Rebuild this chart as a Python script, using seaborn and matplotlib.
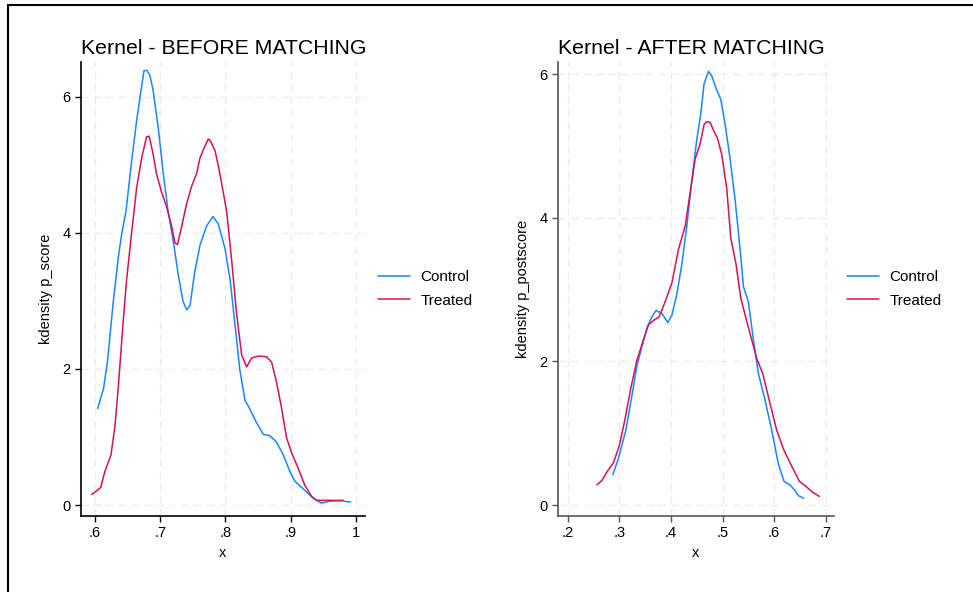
import numpy as np
import pandas as pd
import matplotlib
matplotlib.use("Agg")
import matplotlib.pyplot as plt
import seaborn as sns
from matplotlib.lines import Line2D

# ---------------- data ----------------
groups = ["Control", "Treated"]

before_control_x = [0.604, 0.613, 0.619, 0.628, 0.636, 0.641, 0.6475, 0.656, 0.664, 0.669, 0.675, 0.679,
                    0.684, 0.689, 0.697, 0.7046, 0.712, 0.720, 0.7277, 0.735, 0.7405, 0.7456, 0.753, 0.761,
                    0.771, 0.781, 0.789, 0.7993, 0.807, 0.8146, 0.822, 0.8299, 0.836, 0.8478, 0.858, 0.868,
                    0.878, 0.8886, 0.899, 0.9065, 0.919, 0.9346, 0.947, 0.960, 0.9755, 0.992]
before_control_y = [1.42, 1.71, 2.10, 2.99, 3.66, 3.99, 4.32, 5.04, 5.66, 5.99, 6.38, 6.39,
                    6.32, 6.10, 5.54, 4.88, 4.32, 3.88, 3.38, 2.99, 2.87, 2.93, 3.43, 3.82,
                    4.10, 4.24, 4.13, 3.77, 3.32, 2.66, 1.99, 1.54, 1.44, 1.21, 1.04, 1.02,
                    0.93, 0.74, 0.49, 0.35, 0.24, 0.10, 0.03, 0.056, 0.067, 0.044]

before_treated_x = [0.5949, 0.6026, 0.6087, 0.615, 0.6245, 0.6306, 0.636, 0.6424, 0.6485, 0.656, 0.6638,
                    0.6715, 0.679, 0.683, 0.689, 0.694, 0.702, 0.7098, 0.7175, 0.7226, 0.7266, 0.733,
                    0.7405, 0.748, 0.756, 0.761, 0.767, 0.7737, 0.777, 0.7839, 0.789, 0.7954, 0.8018,
                    0.8095, 0.817, 0.8248, 0.8324, 0.840, 0.8503, 0.863, 0.8708, 0.878, 0.886, 0.8937,
                    0.9014, 0.9116, 0.9218, 0.932, 0.9397, 0.955, 0.9806]
before_treated_y = [0.156, 0.21, 0.26, 0.49, 0.74, 1.16, 1.77, 2.60, 3.32, 3.99, 4.66,
                    5.10, 5.41, 5.42, 5.16, 4.88, 4.60, 4.38, 4.10, 3.85, 3.83, 4.10,
                    4.43, 4.68, 4.88, 5.10, 5.24, 5.38, 5.35, 5.21, 4.99, 4.66, 4.32,
                    3.60, 2.82, 2.21, 2.03, 2.16, 2.19, 2.18, 2.10, 1.82, 1.43, 0.99,
                    0.77, 0.54, 0.29, 0.13, 0.07, 0.07, 0.07]

after_control_x = [0.2872, 0.2982, 0.3124, 0.324, 0.3337, 0.3434, 0.3531, 0.3628, 0.3712, 0.3822, 0.3938,
                   0.4016, 0.4112, 0.421, 0.4306, 0.4403, 0.450, 0.4578, 0.4642, 0.4726, 0.479, 0.4874,
                   0.4965, 0.505, 0.5146, 0.5243, 0.534, 0.5405, 0.550, 0.5598, 0.5695, 0.5824, 0.5953,
                   0.6082, 0.6192, 0.6308, 0.6405, 0.647, 0.6567]
after_control_y = [0.42, 0.65, 1.04, 1.51, 1.93, 2.20, 2.46, 2.62, 2.71, 2.67, 2.54,
                   2.64, 2.93, 3.35, 3.88, 4.51, 5.09, 5.45, 5.87, 6.04, 5.98, 5.80,
                   5.65, 5.30, 4.82, 4.25, 3.56, 3.04, 2.83, 2.30, 1.83, 1.46, 1.04,
                   0.57, 0.33, 0.28, 0.20, 0.13, 0.095]

after_treated_x = [0.2562, 0.266, 0.2757, 0.2886, 0.300, 0.311, 0.322, 0.3337, 0.3466, 0.3563, 0.366,
                   0.377, 0.3886, 0.4016, 0.4145, 0.4274, 0.4371, 0.4468, 0.4565, 0.4642, 0.4694,
                   0.4758, 0.4823, 0.490, 0.4985, 0.5082, 0.5159, 0.5262, 0.5353, 0.5469, 0.5566,
                   0.5662, 0.5779, 0.5921, 0.605, 0.618, 0.634, 0.6489, 0.6631, 0.676, 0.6877]
after_treated_y = [0.28, 0.34, 0.46, 0.59, 0.83, 1.20, 1.62, 2.01, 2.30, 2.51, 2.57,
                   2.62, 2.83, 3.09, 3.56, 3.88, 4.35, 4.82, 5.03, 5.30, 5.34,
                   5.33, 5.22, 5.11, 4.88, 4.40, 3.72, 3.35, 2.88, 2.56, 2.30,
                   2.04, 1.83, 1.41, 1.04, 0.78, 0.54, 0.33, 0.25, 0.17, 0.12]

left_xticks = [0.6, 0.7, 0.8, 0.9, 1.0]
left_xticklabels = [".6", ".7", ".8", ".9", "1"]
right_xticks = [0.2, 0.3, 0.4, 0.5, 0.6, 0.7]
right_xticklabels = [".2", ".3", ".4", ".5", ".6", ".7"]
yticks = [0, 2, 4, 6]
yticklabels = ["0", "2", "4", "6"]

titles = ["Kernel - BEFORE MATCHING", "Kernel - AFTER MATCHING"]
ylabels = ["kdensity p_score", "kdensity p_postscore"]

# ---------------- style ----------------
sns.set_style("white")
plt.rcParams["font.family"] = ["Liberation Sans", "DejaVu Sans"]
plt.rcParams["text.color"] = "black"
plt.rcParams["axes.labelcolor"] = "black"
palette = {"Control": "#1a85ff", "Treated": "#d41159"}


def make_df(cx, cy, tx, ty):
    return pd.DataFrame({
        "x": list(cx) + list(tx),
        "y": list(cy) + list(ty),
        "group": ["Control"] * len(cx) + ["Treated"] * len(tx),
    })


df_before = make_df(before_control_x, before_control_y, before_treated_x, before_treated_y)
df_after = make_df(after_control_x, after_control_y, after_treated_x, after_treated_y)

fig = plt.figure(figsize=(9.73, 5.92), dpi=100)
W, H = 973, 592


def px_axes(x0, y0, x1, y1):
    return fig.add_axes([x0 / W, 1 - y1 / H, (x1 - x0) / W, (y1 - y0) / H])


ax1 = px_axes(81, 62, 365, 516)
ax2 = px_axes(558, 62, 834, 516)

configs = [
    (ax1, df_before, (0.5785, 1.014), (-0.16, 6.51), left_xticks, left_xticklabels, "black"),
    (ax2, df_after, (0.181, 0.716), (-0.153, 6.17), right_xticks, right_xticklabels, "#555555"),
]

for i, (ax, df, xl, yl, xt, xtl, spc) in enumerate(configs):
    sns.lineplot(data=df, x="x", y="y", hue="group", hue_order=groups, palette=palette,
                 sort=False, estimator=None, units="group", linewidth=1.1, ax=ax, legend=False)
    ax.set_xlim(*xl)
    ax.set_ylim(*yl)
    ax.set_xticks(xt)
    ax.set_xticklabels(xtl)
    ax.set_yticks(yticks)
    ax.set_yticklabels(yticklabels)
    ax.grid(True, color="#ebebeb", linestyle=(0, (6, 4)), linewidth=0.9)
    ax.set_axisbelow(True)
    for s in ["top", "right"]:
        ax.spines[s].set_visible(False)
    for s in ["left", "bottom"]:
        ax.spines[s].set_color(spc)
        ax.spines[s].set_linewidth(1.2)
    ax.tick_params(axis="both", direction="out", length=4, width=1, colors=spc,
                   labelcolor="black", labelsize=10.5, left=True, bottom=True)
    ax.set_xlabel("x", fontsize=10.5, labelpad=4)
    ax.set_ylabel(ylabels[i], fontsize=10.5, labelpad=7)
    ax.set_title(titles[i], loc="left", fontsize=15.3, pad=6, color="black")
    handles = [Line2D([0], [0], color=palette[g], lw=1.1) for g in groups]
    ax.legend(handles, groups, loc="center left", bbox_to_anchor=(1.0, 0.5), frameon=False,
              fontsize=11, handlelength=2.1, handletextpad=0.65, labelspacing=0.6,
              borderaxespad=0.46)

# outer frame lines (top and left)
fig.add_artist(Line2D([8 / W, 1.0], [1 - 4.5 / H, 1 - 4.5 / H], color="black", lw=1.5,
                      transform=fig.transFigure))
fig.add_artist(Line2D([8 / W, 8 / W], [0, 1 - 4.5 / H], color="black", lw=1.5,
                      transform=fig.transFigure))

fig.savefig("out.png", dpi=100)
